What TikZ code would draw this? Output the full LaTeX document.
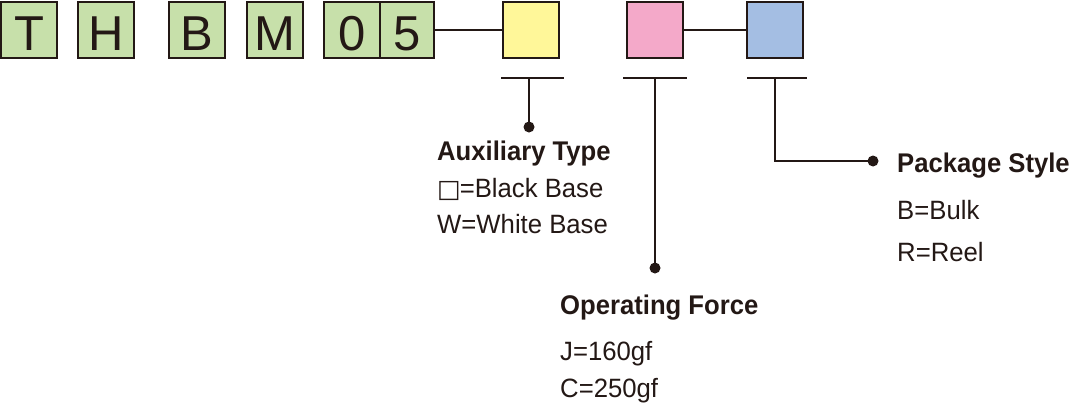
\documentclass[tikz,border=0pt]{standalone}
\usepackage{fontspec}
\setmainfont{Liberation Sans}
\newfontfamily\headfont[FakeStretch=0.95]{Liberation Sans}
\newfontfamily\itemfont[FakeStretch=0.97]{Liberation Sans}
\newfontfamily\symfont{DejaVu Sans}
\definecolor{ink}{HTML}{231815}
\definecolor{gfill}{HTML}{C7E0AA}
\definecolor{yfill}{HTML}{FFF799}
\definecolor{pfill}{HTML}{F4A9C9}
\definecolor{bfill}{HTML}{A4BEE3}
\begin{document}
\begin{tikzpicture}[x=1pt,y=-1pt,
  box/.style={draw=ink,line width=2pt,minimum width=56pt,minimum height=56pt,inner sep=0pt,
    font=\fontsize{49}{49}\selectfont,text=ink,text height=41pt,text depth=0pt},
  gbox/.style={box,fill=gfill},
  conn/.style={draw=ink,line width=2pt},
  dot/.style={circle,fill=ink,inner sep=0pt,minimum size=11pt},
  head/.style={anchor=base west,inner sep=0pt,text=ink,font=\headfont\fontsize{27}{27}\selectfont\bfseries},
  item/.style={anchor=base west,inner sep=0pt,text=ink,font=\itemfont\fontsize{26.5}{26.5}\selectfont}]
\useasboundingbox (0,0) rectangle (1073,410);
% code letters
\node[gbox] (t) at (29,29.5) {T};
\node[gbox] (h) at (106,29.5) {H};
\node[gbox] (b) at (197,29.5) {B};
\node[gbox] (m) at (275,29.5) {M};
\node[gbox] (d0) at (352,29.5) {0};
\node[gbox,minimum width=54pt] (d5) at (407,29.5) {5};
% option boxes
\node[box,fill=yfill] (yb) at (531,29.5) {};
\node[box,fill=pfill] (pb) at (654.5,29.5) {};
\node[box,fill=bfill] (bb) at (774.5,29.5) {};
\draw[conn] (d5.east) -- (yb.west);
\draw[conn] (pb.east) -- (bb.west);
% T bars
\coordinate (yl) at (501,78); \coordinate (yr) at (564,78); \coordinate (ys) at (529,78);
\coordinate (pl) at (623,78); \coordinate (pr) at (687,78); \coordinate (ps) at (655,78);
\coordinate (bl) at (747,78); \coordinate (br) at (807,78); \coordinate (bs) at (775,78);
\draw[conn] (yl) -- (yr);
\draw[conn] (pl) -- (pr);
\draw[conn] (bl) -- (br);
\node[dot] (yd) at (529,127) {};
\node[dot] (pd) at (655,268) {};
\node[dot] (bd) at (873,161) {};
\draw[conn] (ys) -- (yd.center);
\draw[conn] (ps) -- (pd.center);
\draw[conn] (bs) |- (bd.center);
% labels
\node[head] (auxh) at (437,160) {Auxiliary Type};
\node[item] (aux1) at (437,197) {{\symfont\fontsize{25}{25}\selectfont □}\kern-1pt=Black Base};
\node[item] (aux2) at (437,233) {W=White Base};
\node[head] (oph) at (560,314) {Operating Force};
\node[item] (op1) at (560,360) {J=160gf};
\node[item] (op2) at (560,397) {C=250gf};
\node[head] (pkh) at (897,172) {Package Style};
\node[item] (pk1) at (897,219) {B=Bulk};
\node[item] (pk2) at (897,261) {R=Reel};
\end{tikzpicture}
\end{document}
